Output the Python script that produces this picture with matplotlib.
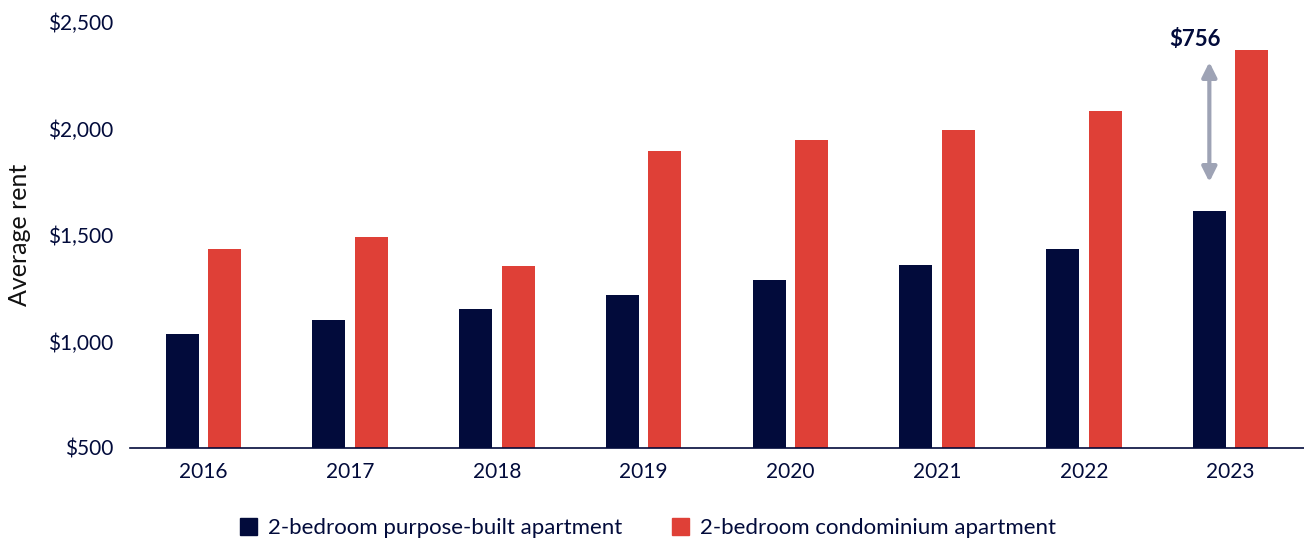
import numpy as np
import matplotlib.pyplot as plt
from matplotlib.ticker import FuncFormatter
from matplotlib.patches import Patch

plt.rcParams['font.family'] = ['Lato', 'DejaVu Sans']

# --- Dati ---
anni = ['2016', '2017', '2018', '2019', '2020', '2021', '2022', '2023']
purpose_built = [1035, 1101, 1153, 1218, 1289, 1359, 1434, 1613]
condominio = [1434, 1491, 1354, 1894, 1946, 1993, 2082, 2369]
etichetta_diff = '$756'

navy = '#020b3b'
rosso = '#df4037'
grigio = '#9ea3b5'

fig = plt.figure(figsize=(13.04, 5.43), dpi=100)
ax = fig.add_axes([130 / 1304, 1 - 448 / 543, 1174 / 1304, 426 / 543])

x = np.arange(len(anni))
w = 0.225
ax.bar(x - 0.145, purpose_built, w, color=navy, bottom=0)
ax.bar(x + 0.145, condominio, w, color=rosso, bottom=0)

ax.set_xlim(-0.5, 7.5)
ax.set_ylim(500, 2500)
ax.set_yticks([500, 1000, 1500, 2000, 2500])
ax.yaxis.set_major_formatter(FuncFormatter(lambda v, p: f'${v:,.0f}'))
ax.set_xticks(x)
ax.set_xticklabels(anni)
ax.tick_params(axis='both', length=0, labelsize=15, colors=navy, pad=10)
ax.tick_params(axis='y', pad=12)

for s in ['top', 'right', 'left']:
    ax.spines[s].set_visible(False)
ax.spines['bottom'].set_color(navy)
ax.spines['bottom'].set_linewidth(1.2)

ax.set_ylabel('Average rent', fontsize=18, color='#111111', labelpad=12)

# --- Freccia differenza 2023 ---
xa = x[-1] - 0.145
ax.annotate('', xy=(xa, 2312), xytext=(xa, 1749),
            arrowprops=dict(arrowstyle='<|-|>', color=grigio, lw=3,
                            mutation_scale=22, shrinkA=0, shrinkB=0))
ax.text(xa - 0.1, 2416, etichetta_diff, ha='center', va='center',
        fontsize=16, fontweight='bold', color=navy)

# --- Legenda ---
maniglie = [Patch(color=navy, label='2-bedroom purpose-built apartment'),
            Patch(color=rosso, label='2-bedroom condominium apartment')]
fig.legend(handles=maniglie, loc='center', bbox_to_anchor=(648 / 1304, 1 - 528 / 543),
           ncol=2, frameon=False, fontsize=16, handlelength=0.8, handleheight=0.8,
           columnspacing=2.2, handletextpad=0.5, labelcolor=navy)

fig.savefig('out.png', dpi=100)
